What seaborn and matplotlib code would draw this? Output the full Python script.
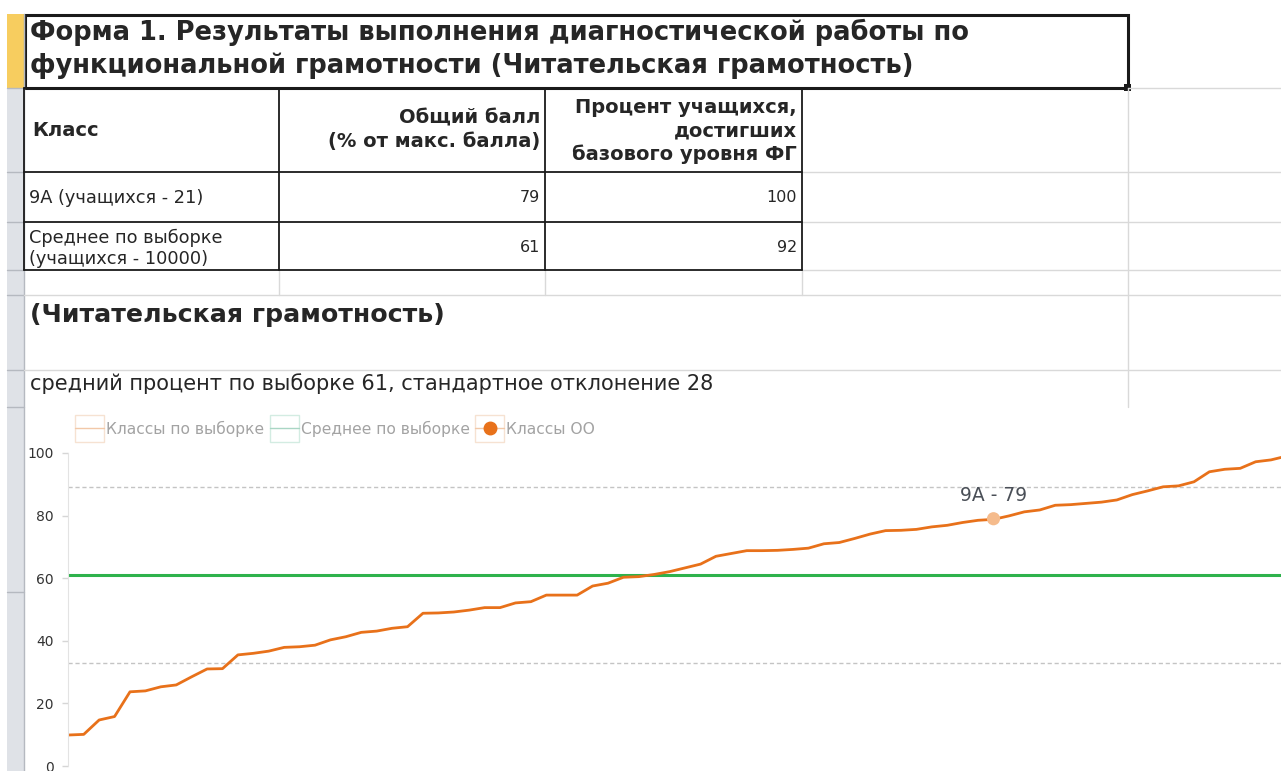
import matplotlib.pyplot as plt
import seaborn as sns
import pandas as pd
from matplotlib.lines import Line2D
from matplotlib.patches import Rectangle
from matplotlib.legend_handler import HandlerBase

# table data
title_lines = ["Форма 1. Результаты выполнения диагностической работы по",
               "функциональной грамотности (Читательская грамотность)"]
col_headers = ["Класс", "Общий балл\n(% от макс. балла)",
               "Процент учащихся,\nдостигших\nбазового уровня ФГ"]
row_names = ["9А (учащихся - 21)", "Среднее по выборке\n(учащихся - 10000)"]
total_score = [79, 61]
base_level = [100, 92]
subject = "(Читательская грамотность)"
sample_mean = 61
sample_sd = 28

# chart data: sorted class results in the sample
sample_scores = [9.9, 10.1, 14.7, 15.8, 23.7, 24.0, 25.3, 25.9, 28.5, 31.0,
                 31.1, 35.5, 36.0, 36.7, 37.9, 38.1, 38.6, 40.3, 41.3, 42.7,
                 43.1, 44.0, 44.5, 48.8, 48.9, 49.2, 49.8, 50.6, 50.6, 52.1,
                 52.5, 54.6, 54.6, 54.6, 57.5, 58.4, 60.3, 60.5, 61.2, 62.1,
                 63.3, 64.5, 67.0, 67.9, 68.8, 68.8, 68.9, 69.2, 69.6, 71.0,
                 71.4, 72.7, 74.1, 75.2, 75.3, 75.6, 76.4, 76.9, 77.8, 78.5,
                 78.8, 79.9, 81.2, 81.8, 83.3, 83.5, 83.9, 84.3, 85.0, 86.7,
                 87.9, 89.2, 89.5, 90.8, 94.0, 94.8, 95.1, 97.2, 97.8, 99.0]
school_class = "9А"
school_score = 79
school_pos = 60
legend_labels = ["Классы по выборке", "Среднее по выборке", "Классы ОО"]

df = pd.DataFrame({"idx": range(len(sample_scores)), "score": sample_scores})

sns.set_style("white")
plt.rcParams['font.family'] = ['DejaVu Sans']

ORANGE = "#e8711a"
GREEN = "#2eb24c"

fig = plt.figure(figsize=(12.81, 7.71), dpi=100)

# ---- spreadsheet background (pixel coords) ----
bg = fig.add_axes([0, 0, 1, 1])
bg.set_xlim(0, 1281)
bg.set_ylim(771, 0)
bg.axis("off")

grid = "#d9d9d9"
# row header strip
bg.add_patch(Rectangle((7, 14), 17, 757, fc="#dfe2e7", ec="none"))
bg.add_patch(Rectangle((7, 14), 17, 74, fc="#f7cd5f", ec="none"))
bg.plot([24, 24], [14, 771], color="#b5b9c0", lw=1)
for y in [88, 172, 222, 270, 295, 370, 407, 592]:
    bg.plot([7, 24], [y, y], color="#b5b9c0", lw=1)

# light grid lines
bg.plot([1128, 1281], [88, 88], color=grid, lw=1)
for y in [172, 222, 270]:
    bg.plot([802, 1281], [y, y], color=grid, lw=1)
for y in [295, 370]:
    bg.plot([24, 1281], [y, y], color=grid, lw=1)
bg.plot([1128, 1128], [88, 407], color=grid, lw=1)
for x in [279, 545, 802]:
    bg.plot([x, x], [270, 295], color=grid, lw=1)

# title cell
bg.add_patch(Rectangle((25, 15), 1103, 73, fill=False, ec="#1a1a1a", lw=2.2))
bg.add_patch(Rectangle((1124, 84), 7, 7, fc="#1a1a1a", ec="none"))
bg.text(30, 32, title_lines[0], fontsize=18.5, fontweight="bold", va="center")
bg.text(30, 66, title_lines[1], fontsize=18.5, fontweight="bold", va="center")

# table
for y in [88, 172, 222, 270]:
    bg.plot([24, 802], [y, y], color="#1a1a1a", lw=1.3)
for x in [24, 279, 545, 802]:
    bg.plot([x, x], [88, 270], color="#1a1a1a", lw=1.3)

bg.text(32, 131, col_headers[0], fontsize=14, fontweight="bold", va="center")
bg.text(540, 130, col_headers[1], fontsize=14, fontweight="bold",
        va="center", ha="right", linespacing=1.32)
bg.text(797, 131, col_headers[2], fontsize=14, fontweight="bold",
        va="center", ha="right", linespacing=1.27)

row_y = [198, 248]
for name, tot, base, y in zip(row_names, total_score, base_level, row_y):
    bg.text(29, y, name, fontsize=12.8, va="center", linespacing=1.22)
    bg.text(540, y, str(tot), fontsize=11.5, va="center", ha="right")
    bg.text(797, y, str(base), fontsize=11.5, va="center", ha="right")

bg.text(30, 315, subject, fontsize=18.2, fontweight="bold", va="center")
bg.text(30, 384, f"средний процент по выборке {sample_mean}, стандартное отклонение {sample_sd}",
        fontsize=15, va="center")

# ---- chart ----
px = 15.42
ax = fig.add_axes([68.3 / 1281, 5 / 771, 1240 / 1281, 313 / 771])
ax.patch.set_alpha(0)
ax.set_xlim(0, 1240 / px)
ax.set_ylim(0, 100)

ax.axhline(sample_mean + sample_sd, color="#c4c4c4", lw=1, ls=(0, (3, 2)))
ax.axhline(sample_mean - sample_sd, color="#c4c4c4", lw=1, ls=(0, (3, 2)))
ax.axhline(sample_mean, color=GREEN, lw=2.2)
sns.lineplot(data=df, x="idx", y="score", color=ORANGE, lw=2.0, ax=ax)
sns.scatterplot(x=[school_pos], y=[school_score], color="#f5bb8c", s=90,
                edgecolor="none", ax=ax, zorder=5)
ax.text(school_pos, school_score + 7.3, f"{school_class} - {school_score}",
        ha="center", va="center", fontsize=13.5, color="#4a4f57")

ax.set_yticks([0, 20, 40, 60, 80, 100])
ax.set_xticks([])
ax.tick_params(axis="y", length=4.5, width=1, color="#d6d6d6", pad=6,
               labelsize=10, labelcolor="#333333", left=True)
for s in ["top", "right", "bottom"]:
    ax.spines[s].set_visible(False)
ax.spines["left"].set_color("#e3e3e3")
ax.set_xlabel("")
ax.set_ylabel("")


class BoxHandler(HandlerBase):
    def __init__(self, box, line, dot=None):
        super().__init__()
        self.box, self.line, self.dot = box, line, dot

    def create_artists(self, legend, orig_handle, xdescent, ydescent,
                       width, height, fontsize, trans):
        yc = height / 2 - ydescent
        r = Rectangle((-xdescent, yc - 10), width, 20, fill=False,
                      ec=self.box, lw=1, transform=trans)
        l = Line2D([-xdescent, width - xdescent], [yc, yc], color=self.line,
                   lw=1, transform=trans)
        arts = [r, l]
        if self.dot:
            arts.append(Line2D([width / 2 - xdescent], [yc], marker="o",
                               ms=9, color=self.dot, transform=trans))
        return arts


handles = [Line2D([], []), Line2D([], [], ls="--"), Line2D([], [], ls=":")]
hmap = {handles[0]: BoxHandler("#f6e2d2", "#f2c8a8"),
        handles[1]: BoxHandler("#d3ece2", "#a9d6c4"),
        handles[2]: BoxHandler("#f6e2d2", "#f2c8a8", ORANGE)}
fig.legend(handles, legend_labels, handler_map=hmap, loc="lower left",
           bbox_to_anchor=(72 / 1281, (771 - 440) / 771), ncol=3,
           frameon=False, fontsize=11.2, labelcolor="#a3a3a3",
           handlelength=1.85, handletextpad=0.15, columnspacing=0.35,
           borderaxespad=0, borderpad=0.2)

fig.savefig("out.png", dpi=100)
